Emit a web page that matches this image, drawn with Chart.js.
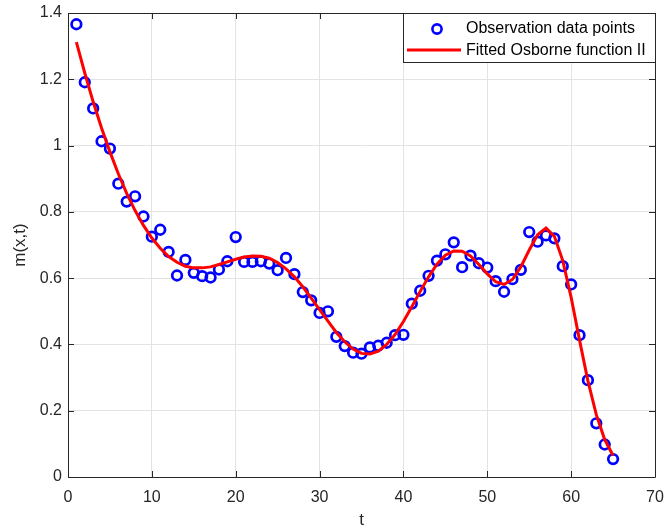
<!DOCTYPE html>
<html>
<head>
<meta charset="utf-8">
<script src="https://cdn.jsdelivr.net/npm/chart.js@4/dist/chart.umd.min.js"></script>
<style>
  html, body { margin: 0; padding: 0; background: #fff; }
  #wrap { width: 666px; height: 531px; }
</style>
</head>
<body>
<div id="wrap"><canvas id="chart" width="666" height="531"></canvas></div>
<script>
// Observed data (t = 1..65)
const tValues = [];
for (let i = 1; i <= 65; i++) tValues.push(i);

const observed = [1.366, 1.191, 1.112, 1.013, 0.991, 0.885, 0.831, 0.847, 0.786, 0.725,
    0.746, 0.679, 0.608, 0.655, 0.616, 0.606, 0.602, 0.626, 0.651, 0.724,
    0.649, 0.649, 0.651, 0.644, 0.624, 0.661, 0.612, 0.558, 0.533, 0.495,
    0.500, 0.423, 0.395, 0.375, 0.372, 0.391, 0.396, 0.405, 0.428, 0.429,
    0.523, 0.562, 0.607, 0.653, 0.672, 0.708, 0.633, 0.668, 0.645, 0.632,
    0.591, 0.559, 0.597, 0.625, 0.739, 0.710, 0.729, 0.720, 0.636, 0.581,
    0.428, 0.292, 0.162, 0.098, 0.054];

// Fitted curve values at the same t
const fitted = [1.312, 1.219, 1.132, 1.053, 0.981, 0.915, 0.856, 0.804, 0.759, 0.721,
    0.690, 0.665, 0.648, 0.636, 0.631, 0.631, 0.634, 0.641, 0.649, 0.657,
    0.664, 0.667, 0.666, 0.660, 0.647, 0.628, 0.604, 0.574, 0.540, 0.505,
    0.470, 0.436, 0.408, 0.386, 0.373, 0.371, 0.380, 0.400, 0.430, 0.469,
    0.514, 0.560, 0.604, 0.642, 0.669, 0.682, 0.681, 0.667, 0.641, 0.613,
    0.589, 0.581, 0.596, 0.634, 0.685, 0.731, 0.751, 0.726, 0.653, 0.542,
    0.413, 0.290, 0.188, 0.113, 0.065];

const xTicks = [0, 10, 20, 30, 40, 50, 60, 70];
const yTicks = [0, 0.2, 0.4, 0.6, 0.8, 1, 1.2, 1.4];
const seriesNames = ['Observation data points', 'Fitted Osborne function II'];

const FONT = '"Liberation Sans", Arial, Helvetica, sans-serif';
const AXIS_COLOR = '#262626';

// Box, inward ticks and legend, MATLAB style
const boxPlugin = {
    id: 'boxPlugin',
    afterDraw(chart) {
        const ctx = chart.ctx;
        const a = chart.chartArea;
        const xs = chart.scales.x, ys = chart.scales.y;
        ctx.save();
        ctx.strokeStyle = AXIS_COLOR;
        ctx.lineWidth = 1;
        ctx.beginPath();
        ctx.rect(Math.round(a.left) + 0.5, Math.round(a.top) + 0.5,
            Math.round(a.right - a.left), Math.round(a.bottom - a.top));
        ctx.stroke();
        const tl = 6;
        ctx.beginPath();
        xTicks.forEach(v => {
            const px = Math.round(xs.getPixelForValue(v)) + 0.5;
            ctx.moveTo(px, a.bottom); ctx.lineTo(px, a.bottom - tl);
            ctx.moveTo(px, a.top); ctx.lineTo(px, a.top + tl);
        });
        yTicks.forEach(v => {
            const py = Math.round(ys.getPixelForValue(v)) + 0.5;
            ctx.moveTo(a.left, py); ctx.lineTo(a.left + tl, py);
            ctx.moveTo(a.right, py); ctx.lineTo(a.right - tl, py);
        });
        ctx.stroke();

        // legend
        const lx = 403, ly = 13, lw = 252, lh = 49;
        ctx.fillStyle = '#fff';
        ctx.fillRect(lx, ly, lw, lh);
        ctx.strokeStyle = AXIS_COLOR;
        ctx.strokeRect(lx + 0.5, ly + 0.5, lw, lh);
        ctx.strokeStyle = '#0000ff';
        ctx.lineWidth = 2.6;
        ctx.beginPath();
        ctx.arc(437, 29, 4.6, 0, Math.PI * 2);
        ctx.stroke();
        ctx.strokeStyle = '#ff0000';
        ctx.lineWidth = 3;
        ctx.beginPath();
        ctx.moveTo(407, 50); ctx.lineTo(461, 50);
        ctx.stroke();
        ctx.fillStyle = '#000';
        ctx.font = '16px ' + FONT;
        ctx.textBaseline = 'middle';
        ctx.fillText(seriesNames[0], 466, 29);
        ctx.fillText(seriesNames[1], 466, 51);
        ctx.restore();
    }
};

new Chart(document.getElementById('chart').getContext('2d'), {
    type: 'scatter',
    data: {
        datasets: [{
            label: seriesNames[1],
            type: 'line',
            data: tValues.map((t, i) => ({ x: t, y: fitted[i] })),
            borderColor: '#ff0000',
            borderWidth: 3,
            pointRadius: 0,
            fill: false,
            tension: 0,
            order: 1
        }, {
            label: seriesNames[0],
            data: tValues.map((t, i) => ({ x: t, y: observed[i] })),
            pointStyle: 'circle',
            pointRadius: 4.8,
            pointBorderWidth: 2.7,
            pointBorderColor: '#0000ff',
            pointBackgroundColor: 'rgba(0,0,0,0)',
            showLine: false,
            order: 2
        }]
    },
    options: {
        responsive: false,
        animation: false,
        layout: { padding: { left: 0, right: 11, top: 13, bottom: 0 } },
        plugins: { legend: { display: false }, tooltip: { enabled: false } },
        scales: {
            x: {
                type: 'linear', min: 0, max: 70,
                afterBuildTicks: s => { s.ticks = xTicks.map(v => ({ value: v })); },
                afterFit: s => { s.height = 54; s.paddingRight = 0; s.paddingLeft = 0; },
                grid: { color: '#e3e3e3', drawTicks: false },
                border: { display: false },
                ticks: { color: AXIS_COLOR, padding: 11, font: { family: FONT, size: 16 } },
                title: { display: true, text: 't', color: AXIS_COLOR, padding: { top: 0, bottom: 0 },
                    font: { family: FONT, size: 17 } }
            },
            y: {
                type: 'linear', min: 0, max: 1.4,
                afterBuildTicks: s => { s.ticks = yTicks.map(v => ({ value: v })); },
                afterFit: s => { s.width = 68; s.paddingTop = 0; s.paddingBottom = 0; },
                grid: { color: '#e3e3e3', drawTicks: false },
                border: { display: false },
                ticks: { color: AXIS_COLOR, padding: 6, font: { family: FONT, size: 16 },
                    callback: v => String(+v.toFixed(1)) },
                title: { display: true, text: 'm(x,t)', color: AXIS_COLOR, padding: { top: 10, bottom: 0 },
                    font: { family: FONT, size: 17 } }
            }
        }
    },
    plugins: [boxPlugin]
});
</script>
</body>
</html>
